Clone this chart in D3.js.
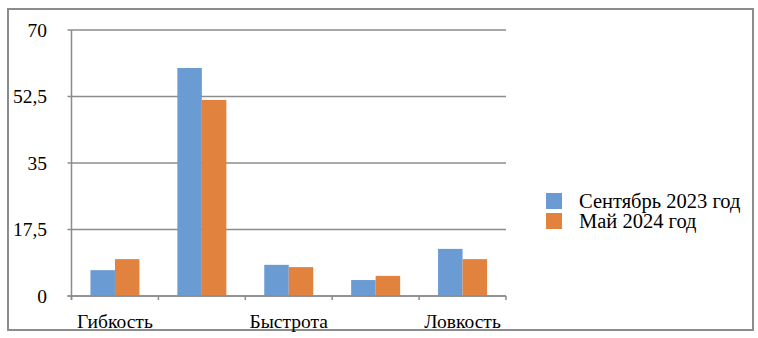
<!DOCTYPE html>
<html><head><meta charset="utf-8">
<script src="https://cdn.jsdelivr.net/npm/d3@7"></script>
<style>body{margin:0;background:#fff}svg{display:block}</style>
</head><body>
<script>
const categories = ["Гибкость", "", "Быстрота", "", "Ловкость"];
const seriesNames = ["Сентябрь 2023 год", "Май 2024 год"];
const sep2023 = [6.8, 60, 8.2, 4.2, 12.4];
const may2024 = [9.7, 51.6, 7.6, 5.3, 9.7];
const yTicks = [0, 17.5, 35, 52.5, 70];
const colors = ["#6a9bd3", "#e1833f"];

const FONT = "'Liberation Serif', 'Times New Roman', serif";
const W = 758, H = 338;
const svg = d3.select("body").append("svg").attr("width", W).attr("height", H)
  .style("font-family", FONT);
svg.append("rect").attr("x", 8).attr("y", 9).attr("width", 745).attr("height", 321)
  .attr("fill", "#fff").attr("stroke", "#8c8c8c").attr("stroke-width", 2);

const plot = {l: 71.5, r: 506, t: 30, b: 296};
const idx = d3.range(categories.length);
const x = d3.scaleBand().domain(idx).range([plot.l, plot.r]).paddingInner(0).paddingOuter(0);
const y = d3.scaleLinear().domain([0, 70]).range([plot.b, plot.t]);
const xs = d3.scaleBand().domain([0, 1]).range([0, 49]);

const g = svg.append("g");
g.selectAll("line.grid").data(yTicks).join("line")
  .attr("x1", plot.l - 4).attr("x2", plot.r)
  .attr("y1", d => y(d)).attr("y2", d => y(d))
  .attr("stroke", "#8c8c8c").attr("stroke-width", 1.5);
g.selectAll("text.yl").data(yTicks).join("text")
  .attr("x", 47).attr("y", d => y(d)).attr("dy", "0.35em")
  .attr("text-anchor", "end").attr("font-size", 19.5)
  .text(d => String(d).replace(".", ","));

const series = [sep2023, may2024];
series.forEach((vals, si) => {
  svg.append("g").selectAll("rect").data(vals).join("rect")
    .attr("x", (d, i) => x(i) + (x.bandwidth() - 49) / 2 + xs(si))
    .attr("width", xs.bandwidth())
    .attr("y", d => y(d)).attr("height", d => y(0) - y(d))
    .attr("fill", colors[si]);
});

svg.append("line").attr("x1", plot.l).attr("x2", plot.l).attr("y1", plot.t).attr("y2", plot.b + 4)
  .attr("stroke", "#8c8c8c").attr("stroke-width", 1.5);
svg.append("line").attr("x1", plot.l - 4).attr("x2", plot.r).attr("y1", plot.b).attr("y2", plot.b)
  .attr("stroke", "#8c8c8c").attr("stroke-width", 1.5);
const bounds = idx.map(i => x(i)).concat([plot.r]);
svg.append("g").selectAll("line").data(bounds).join("line")
  .attr("x1", d => d).attr("x2", d => d).attr("y1", plot.b).attr("y2", plot.b + 4)
  .attr("stroke", "#8c8c8c").attr("stroke-width", 1.5);

svg.append("g").selectAll("text").data(idx).join("text")
  .attr("x", i => x(i) + x.bandwidth() / 2).attr("y", 321).attr("dy", "0.35em")
  .attr("text-anchor", "middle").attr("font-size", 19.5)
  .text(i => categories[i]);

const leg = svg.append("g");
seriesNames.forEach((n, i) => {
  leg.append("rect").attr("x", 546).attr("y", 193 + i * 20).attr("width", 16).attr("height", 16)
    .attr("fill", colors[i]);
  leg.append("text").attr("x", 579).attr("y", 201 + i * 20).attr("dy", "0.35em")
    .attr("font-size", 20.5).text(n);
});
</script>
</body></html>
